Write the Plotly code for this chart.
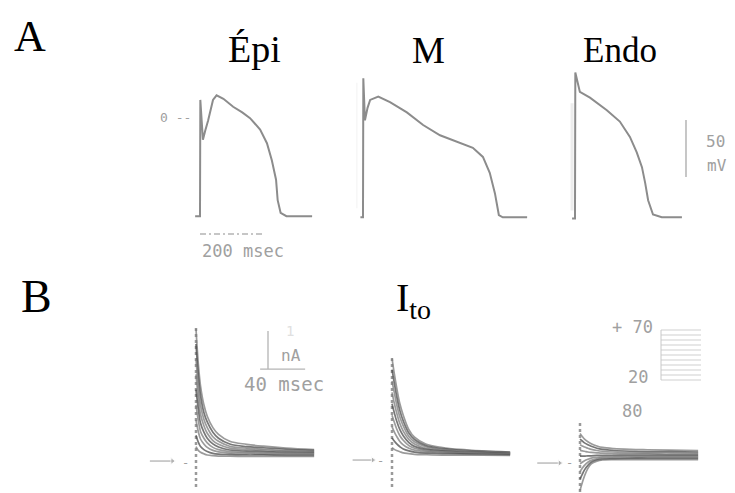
import plotly.graph_objects as go

# page body adds an 8 px offset; figure is sized so that it ends at the window edge
OFF = 8
W, H = 735 - OFF, 493 - OFF

# ---------------- data ----------------
# Panel A: action potentials (time ms, membrane potential mV)
epi_ap_t = [-15, 0, 1, 5, 9, 16, 25, 40, 51, 72, 102, 130, 154, 185, 206, 221, 234, 239, 248, 266, 345]
epi_ap_v = [-87, -87, 15, -8, -20, -12, -3, 15, 19, 16, 9, 4, -1, -11, -23, -38, -55, -73, -84, -87, -87]

m_ap_t = [-8, 0, 1, 6, 14, 22, 47, 83, 135, 185, 237, 289, 338, 369, 390, 406, 418, 430, 505]
m_ap_v = [-88, -88, 34, -3, 8, 15, 18, 13, 4, -7, -16, -22, -27, -35, -49, -67, -86, -88, -88]

endo_ap_t = [-9, 0, 1, 8, 15, 46, 98, 138, 169, 190, 206, 216, 225, 240, 267, 329]
endo_ap_v = [-89, -89, 39, 30, 22, 17, 6, -4, -17.5, -31, -44, -58, -73, -85.5, -88, -88]

# Panel B: Ito current families (time ms, current nA)
ito_t = [0, 2, 4, 7, 10, 15, 20, 30, 45, 60, 80, 105]
epi_ito = [
    [3.4, 2.5, 1.9, 1.4, 1.1, 0.8, 0.62, 0.44, 0.36, 0.31, 0.26, 0.22],
    [3.0, 2.2, 1.65, 1.2, 0.95, 0.68, 0.52, 0.37, 0.3, 0.27, 0.23, 0.2],
    [2.6, 1.9, 1.4, 1.02, 0.8, 0.56, 0.44, 0.31, 0.26, 0.23, 0.2, 0.18],
    [2.2, 1.6, 1.15, 0.85, 0.65, 0.46, 0.36, 0.26, 0.22, 0.2, 0.18, 0.16],
    [1.8, 1.3, 0.92, 0.68, 0.52, 0.37, 0.29, 0.21, 0.18, 0.17, 0.15, 0.14],
    [1.4, 1.0, 0.7, 0.52, 0.4, 0.28, 0.22, 0.17, 0.15, 0.14, 0.13, 0.12],
    [1.0, 0.7, 0.5, 0.37, 0.28, 0.2, 0.16, 0.13, 0.12, 0.11, 0.1, 0.1],
    [0.6, 0.42, 0.3, 0.22, 0.17, 0.12, 0.1, 0.09, 0.08, 0.08, 0.07, 0.07],
    [0.3, 0.2, 0.15, 0.11, 0.08, 0.06, 0.05, 0.05, 0.04, 0.04, 0.04, 0.04],
]
m_ito = [
    [2.6, 2.2, 1.85, 1.4, 1.1, 0.72, 0.52, 0.34, 0.25, 0.2, 0.16, 0.13],
    [2.3, 1.95, 1.62, 1.22, 0.95, 0.63, 0.46, 0.3, 0.22, 0.18, 0.15, 0.12],
    [2.0, 1.7, 1.4, 1.05, 0.82, 0.54, 0.4, 0.27, 0.2, 0.17, 0.14, 0.11],
    [1.7, 1.42, 1.18, 0.88, 0.68, 0.46, 0.34, 0.23, 0.18, 0.15, 0.13, 0.1],
    [1.4, 1.17, 0.96, 0.72, 0.56, 0.38, 0.28, 0.2, 0.16, 0.13, 0.12, 0.09],
    [1.1, 0.92, 0.75, 0.56, 0.44, 0.3, 0.23, 0.17, 0.14, 0.12, 0.1, 0.08],
    [0.8, 0.66, 0.55, 0.41, 0.32, 0.23, 0.18, 0.14, 0.12, 0.1, 0.09, 0.07],
    [0.5, 0.42, 0.35, 0.27, 0.21, 0.16, 0.13, 0.1, 0.09, 0.08, 0.07, 0.06],
    [0.25, 0.2, 0.17, 0.14, 0.11, 0.09, 0.07, 0.06, 0.05, 0.05, 0.05, 0.04],
]
endo_ito = [
    [0.7, 0.62, 0.55, 0.48, 0.43, 0.37, 0.33, 0.3, 0.28, 0.27, 0.26, 0.25],
    [0.55, 0.5, 0.45, 0.4, 0.36, 0.31, 0.28, 0.25, 0.23, 0.22, 0.22, 0.21],
    [0.4, 0.37, 0.34, 0.31, 0.28, 0.25, 0.23, 0.21, 0.2, 0.19, 0.19, 0.18],
    [0.25, 0.24, 0.23, 0.21, 0.2, 0.19, 0.18, 0.17, 0.16, 0.16, 0.15, 0.15],
    [0.1, 0.1, 0.1, 0.11, 0.11, 0.12, 0.12, 0.12, 0.12, 0.12, 0.12, 0.12],
    [-0.1, -0.06, -0.02, 0.02, 0.05, 0.07, 0.08, 0.09, 0.09, 0.09, 0.09, 0.09],
    [-0.3, -0.22, -0.14, -0.06, -0.01, 0.03, 0.05, 0.06, 0.06, 0.07, 0.07, 0.07],
    [-0.5, -0.38, -0.26, -0.14, -0.06, 0.0, 0.02, 0.03, 0.04, 0.04, 0.04, 0.04],
    [-0.8, -0.6, -0.42, -0.22, -0.1, -0.03, 0.0, 0.01, 0.01, 0.01, 0.01, 0.01],
]
# capacitive artefact at step onset (nA extent)
epi_artifact = [-0.76, 3.5]
m_artifact = [-0.79, 2.6]
endo_artifact = [-0.84, 1.05]

# holding-level arrows (ms)
epi_arrow_t = [-41, -21]
m_arrow_t = [-35, -17]
endo_arrow_t = [-38, -18]

# voltage-clamp protocol levels (mV)
protocol_levels = [70, 65, 60, 55, 50, 45, 40, 35, 30, 25, 20]
protocol_t = [0, 40]

# scale bars
ap_time_bar = [0, 200]      # ms
ap_volt_bar = [-2.6, -52.6]  # mV (50 mV)
ito_time_bar = [57, 97]     # ms (40 ms)
ito_curr_bar = [2.34, 3.34]  # nA (1 nA)

# ---------------- layout helpers ----------------
def fx(p):
    return (p - OFF) / W

def fy(p):
    return 1 - (p - OFF) / H

fig = go.Figure()
layout = dict(width=W, height=H, margin=dict(l=0, r=0, t=0, b=0),
              paper_bgcolor="white", plot_bgcolor="rgba(0,0,0,0)", showlegend=False)

AP_PXMS = 0.325
AP_PXMV = 1.14
ITO_PXMS = 1.125
ITO_PXNA = 38.0

def add_axes(n, x0px, pxs, xr, y0px, pys, yr):
    key = "" if n == 1 else str(n)
    layout["xaxis" + key] = dict(range=xr, domain=[fx(x0px + xr[0] * pxs), fx(x0px + xr[1] * pxs)],
                                 visible=False, fixedrange=True, anchor="y" + key)
    layout["yaxis" + key] = dict(range=yr, domain=[fy(y0px - yr[0] * pys), fy(y0px - yr[1] * pys)],
                                 visible=False, fixedrange=True, anchor="x" + key)
    return ("x" + key, "y" + key)

ax_epi = add_axes(1, 200, AP_PXMS, [-20, 360], 117, AP_PXMV, [-110, 45])
ax_m = add_axes(2, 363, AP_PXMS, [-20, 520], 117, AP_PXMV, [-110, 45])
ax_endo = add_axes(3, 575, AP_PXMS, [-20, 360], 117, AP_PXMV, [-110, 45])
bx_epi = add_axes(4, 196, ITO_PXMS, [-50, 115], 458, ITO_PXNA, [-0.9, 3.7])
bx_m = add_axes(5, 392, ITO_PXMS, [-50, 115], 457, ITO_PXNA, [-0.9, 3.7])
bx_endo = add_axes(6, 580, ITO_PXMS, [-50, 115], 460, ITO_PXNA, [-0.85, 3.7])
px_prot = add_axes(7, 661, 1.0, [-5, 45], 400, 1.0, [15, 75])

AP_COLOR = "#8c8c8c"
BAR_COLOR = "#b4b4b4"
TXT_COLOR = "#a0a0a0"

def line(ax, x, y, color, width, dash="solid", opacity=1.0, shape="linear"):
    fig.add_trace(go.Scatter(x=x, y=y, mode="lines", xaxis=ax[0], yaxis=ax[1],
                             line=dict(color=color, width=width, dash=dash, shape=shape),
                             opacity=opacity, hoverinfo="skip"))

# faint scan artefact bands
line(ax_m, [-22, -22], [-80, 30], "#f0f0f0", 3)
line(ax_endo, [-9, -9], [-82, 12], "#ededed", 3)

# action potentials
line(ax_epi, epi_ap_t, epi_ap_v, AP_COLOR, 2)
line(ax_m, m_ap_t, m_ap_v, AP_COLOR, 2)
line(ax_endo, endo_ap_t, endo_ap_v, AP_COLOR, 2)

# A scale bars
line(ax_epi, ap_time_bar, [-102.6, -102.6], BAR_COLOR, 1.5, dash="6px,3px,2px,3px")
line(ax_endo, [341.5, 341.5], ap_volt_bar, BAR_COLOR, 1.5)

# B current families
for ax, fam, art, arr in [(bx_epi, epi_ito, epi_artifact, epi_arrow_t),
                          (bx_m, m_ito, m_artifact, m_arrow_t),
                          (bx_endo, endo_ito, endo_artifact, endo_arrow_t)]:
    line(ax, [0, 0], art, "#9a9a9a", 2.5, dash="dot")
    for k, tr in enumerate(fam):
        col = "#4a4a4a" if k % 3 == 1 else "#7a7a7a"
        line(ax, ito_t, tr, col, 1.7, opacity=0.75, shape="spline")
    fig.add_trace(go.Scatter(x=arr, y=[-0.08, -0.08], mode="lines+markers", xaxis=ax[0], yaxis=ax[1],
                             line=dict(color="#9a9a9a", width=1),
                             marker=dict(symbol="triangle-right", size=[0, 6], color="#9a9a9a"),
                             hoverinfo="skip"))

# B scale bars
line(bx_epi, [64, 64], ito_curr_bar, BAR_COLOR, 1.3)
line(bx_epi, ito_time_bar, [2.34, 2.34], BAR_COLOR, 1.3)

# protocol inset
for v in protocol_levels:
    line(px_prot, protocol_t, [v, v], "#cfcfcf", 1)
line(px_prot, [0, 0], [protocol_levels[-1], protocol_levels[0]], "#c8c8c8", 1)

# ---------------- text ----------------
ann = []

def text(x, y, s, size, color="black", family="Liberation Serif"):
    ann.append(dict(x=fx(x), y=fy(y), xref="paper", yref="paper", text=s, showarrow=False,
                    xanchor="center", yanchor="middle",
                    font=dict(family=family, size=size, color=color)))

text(30, 36, "A", 44)
text(37, 296, "B", 46)
text(254, 49, "Épi", 38)
text(428, 50, "M", 37)
text(620, 50, "Endo", 35)
text(414, 300, "I<sub>to</sub>", 40)

MONO = "DejaVu Sans Mono"
text(175, 118, "0 --", 13, TXT_COLOR, MONO)
text(243, 251, "200 msec", 17, TXT_COLOR, MONO)
text(715, 141, "50", 16, TXT_COLOR, MONO)
text(717, 166, "mV", 16, TXT_COLOR, MONO)
text(291, 355, "nA", 16, TXT_COLOR, MONO)
text(290, 331, "1", 14, "#e0e0e0", MONO)
text(284, 384, "40 msec", 19, TXT_COLOR, MONO)
text(632, 327, "+ 70", 17, TXT_COLOR, MONO)
text(638, 377, "20", 17, TXT_COLOR, MONO)
text(632, 411, "80", 17, TXT_COLOR, MONO)

text(185, 463, "-", 12, TXT_COLOR, MONO)
text(381, 461, "-", 12, TXT_COLOR, MONO)
text(569, 463, "-", 12, TXT_COLOR, MONO)

layout["annotations"] = ann
fig.update_layout(**layout)
fig.write_html("out.html")
